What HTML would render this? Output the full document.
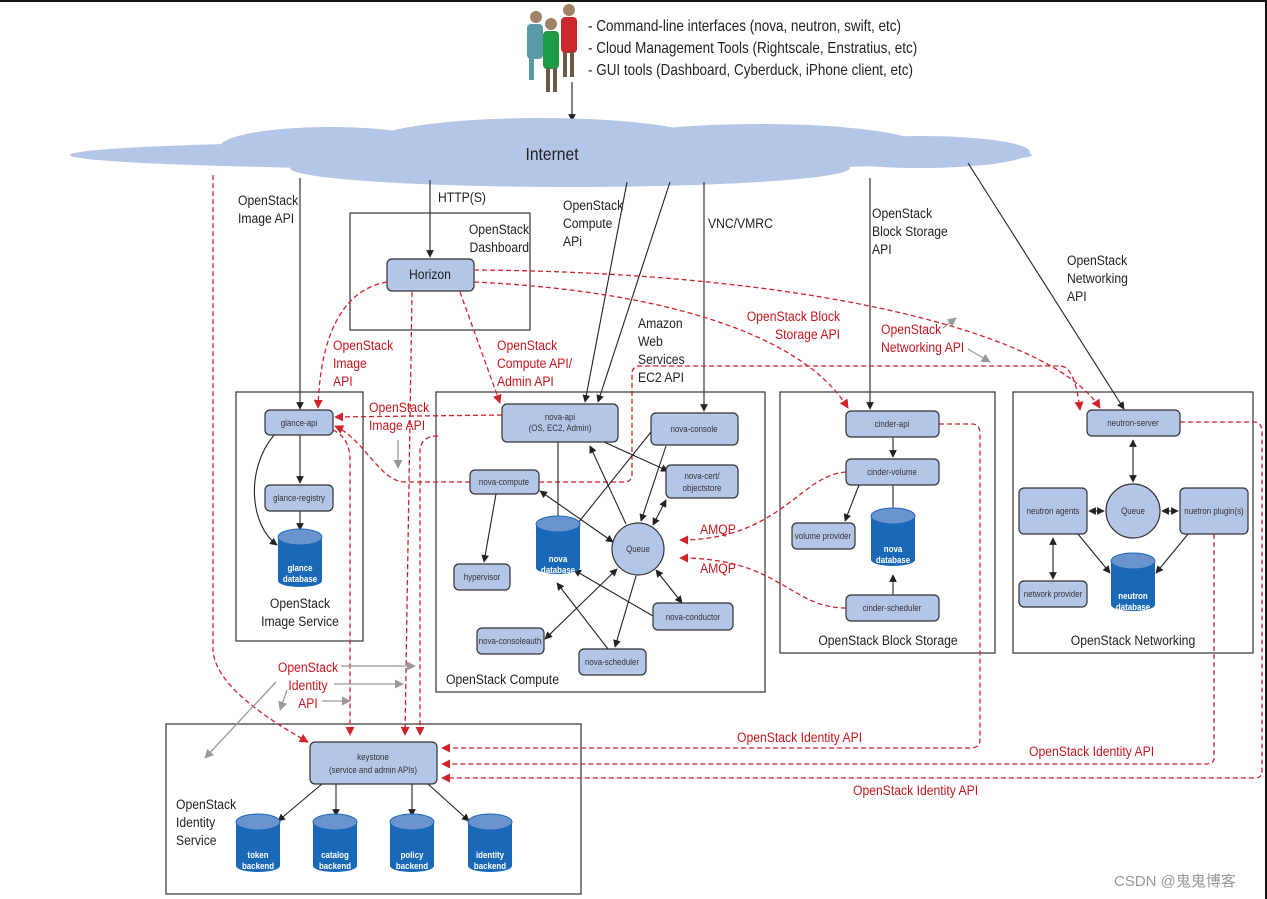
<!DOCTYPE html>
<html><head><meta charset="utf-8"><style>
html,body{margin:0;padding:0;background:#fff;}
svg{display:block;}
text{font-family:"Liberation Sans",sans-serif;transform-box:fill-box;}
.b{fill:#b4c6e7;stroke:#333;stroke-width:1.2;}
.t{font-size:9px;fill:#333;text-anchor:middle;transform-origin:center;transform:scaleX(.88);}
.l{font-size:14px;fill:#222;transform-origin:0 0;transform:scaleX(.87);}
.lm{font-size:14px;fill:#222;text-anchor:middle;transform-origin:center;transform:scaleX(.87);}
.le{font-size:14px;fill:#222;text-anchor:end;transform-origin:100% 0;transform:scaleX(.87);}
.r{font-size:14px;fill:#c8161d;transform-origin:0 0;transform:scaleX(.87);}
.rm{font-size:14px;fill:#c8161d;text-anchor:middle;transform-origin:center;transform:scaleX(.87);}
.re{font-size:14px;fill:#c8161d;text-anchor:end;transform-origin:100% 0;transform:scaleX(.87);}
.k{stroke:#222;stroke-width:1.1;fill:none;}
.d{stroke:#d0232a;stroke-width:1.3;fill:none;stroke-dasharray:5,3;}
.g{stroke:#999;stroke-width:1.3;fill:none;}
.box{fill:none;stroke:#333;stroke-width:1.2;}
.ct{font-size:9px;fill:#fff;font-weight:bold;text-anchor:middle;transform-origin:center;transform:scaleX(.88);}
</style></head><body>
<svg width="1267" height="899" viewBox="0 0 1267 899" xmlns="http://www.w3.org/2000/svg">
<defs>
<marker id="a" viewBox="0 0 10 10" refX="9" refY="5" markerWidth="7" markerHeight="7" orient="auto-start-reverse"><path d="M0,0L10,5L0,10z" fill="#222"/></marker>
<marker id="ar" viewBox="0 0 10 10" refX="9" refY="5" markerWidth="7" markerHeight="7" orient="auto-start-reverse"><path d="M0,0L10,5L0,10z" fill="#d0232a"/></marker>
<marker id="ag" viewBox="0 0 10 10" refX="9" refY="5" markerWidth="7" markerHeight="7" orient="auto"><path d="M0,0L10,5L0,10z" fill="#999"/></marker>
<g id="cyl"><rect x="-22" y="-18" width="44" height="44" fill="#1a68b8"/><ellipse cx="0" cy="26" rx="22" ry="6" fill="#1a68b8"/><ellipse cx="0" cy="-18" rx="22" ry="8" fill="#6b94cf" stroke="#1a68b8"/></g>
</defs>
<rect x="0" y="0" width="1267" height="2" fill="#111"/>
<rect x="1265" y="0" width="2" height="899" fill="#111"/>

<g>
<circle cx="536" cy="17" r="6" fill="#a08366"/><rect x="527" y="24" width="16" height="35" rx="4" fill="#5a9aa6"/><rect x="529" y="58" width="5" height="22" fill="#5a9aa6"/>
<circle cx="569" cy="10" r="6" fill="#a08366"/><rect x="561" y="17" width="16" height="36" rx="4" fill="#c9282d"/><rect x="563" y="52" width="4" height="25" fill="#6b5a48"/><rect x="570" y="52" width="4" height="25" fill="#6b5a48"/>
<circle cx="551" cy="24" r="6" fill="#a08366"/><rect x="543" y="31" width="16" height="38" rx="4" fill="#1d9a45"/><rect x="546" y="68" width="4" height="24" fill="#6b5a48"/><rect x="553" y="68" width="4" height="24" fill="#6b5a48"/>
</g>
<text x="588" y="31" class="l" style="font-size:15.5px">- Command-line interfaces (nova, neutron, swift, etc)</text>
<text x="588" y="53" class="l" style="font-size:15.5px">- Cloud Management Tools (Rightscale, Enstratius, etc)</text>
<text x="588" y="75" class="l" style="font-size:15.5px">- GUI tools (Dashboard, Cyberduck, iPhone client, etc)</text>
<line x1="572" y1="82" x2="572" y2="121" class="k" marker-end="url(#a)"/>

<g fill="#b4c6e7">
<ellipse cx="551" cy="155" rx="481" ry="15"/>
<ellipse cx="330" cy="147" rx="110" ry="20"/>
<ellipse cx="540" cy="143" rx="170" ry="25"/>
<ellipse cx="760" cy="146" rx="160" ry="22"/>
<ellipse cx="570" cy="168" rx="280" ry="19"/>
<ellipse cx="920" cy="152" rx="110" ry="16"/>
</g>
<text x="552" y="160" class="lm" style="font-size:18px">Internet</text>

<line x1="300" y1="178" x2="300" y2="409" class="k" marker-end="url(#a)"/>
<text x="238" y="205" class="l">OpenStack</text><text x="238" y="223" class="l">Image API</text>
<line x1="430" y1="180" x2="430" y2="257" class="k" marker-end="url(#a)"/>
<text x="438" y="202" class="l">HTTP(S)</text>
<line x1="627" y1="182" x2="585" y2="402" class="k" marker-end="url(#a)"/>
<line x1="670" y1="182" x2="598" y2="402" class="k" marker-end="url(#a)"/>
<text x="563" y="210" class="l">OpenStack</text><text x="563" y="228" class="l">Compute</text><text x="563" y="246" class="l">APi</text>
<text x="638" y="328" class="l">Amazon</text><text x="638" y="346" class="l">Web</text><text x="638" y="364" class="l">Services</text><text x="638" y="382" class="l">EC2 API</text>
<line x1="704" y1="182" x2="704" y2="411" class="k" marker-end="url(#a)"/>
<text x="708" y="228" class="l">VNC/VMRC</text>
<line x1="870" y1="178" x2="870" y2="409" class="k" marker-end="url(#a)"/>
<text x="872" y="218" class="l">OpenStack</text><text x="872" y="236" class="l">Block Storage</text><text x="872" y="254" class="l">API</text>
<line x1="968" y1="163" x2="1124" y2="409" class="k" marker-end="url(#a)"/>
<text x="1067" y="265" class="l">OpenStack</text><text x="1067" y="283" class="l">Networking</text><text x="1067" y="301" class="l">API</text>

<rect x="350" y="213" width="180" height="117" class="box"/>
<text x="529" y="234" class="le">OpenStack</text><text x="529" y="252" class="le">Dashboard</text>
<rect x="387" y="259" width="87" height="32" rx="5" class="b"/>
<text x="430" y="279" class="lm">Horizon</text>

<rect x="236" y="392" width="127" height="249" class="box"/>
<rect x="436" y="392" width="329" height="300" class="box"/>
<rect x="780" y="392" width="215" height="261" class="box"/>
<rect x="1013" y="392" width="240" height="261" class="box"/>
<rect x="166" y="724" width="415" height="170" class="box"/>
<text x="300" y="608" class="lm">OpenStack</text><text x="300" y="626" class="lm">Image Service</text>
<text x="446" y="684" class="l">OpenStack Compute</text>
<text x="888" y="645" class="lm">OpenStack Block Storage</text>
<text x="1133" y="645" class="lm">OpenStack Networking</text>
<text x="176" y="809" class="l">OpenStack</text><text x="176" y="827" class="l">Identity</text><text x="176" y="845" class="l">Service</text>

<path d="M474,270 C800,272 1050,330 1100,408" class="d" marker-end="url(#ar)"/>
<path d="M474,282 C650,290 800,330 848,408" class="d" marker-end="url(#ar)"/>
<path d="M387,282 C340,290 320,340 318,408" class="d" marker-end="url(#ar)"/>
<path d="M412,292 L405,735" class="d" marker-end="url(#ar)"/>
<path d="M460,292 L500,403" class="d" marker-end="url(#ar)"/>
<path d="M502,415 L335,417" class="d" marker-end="url(#ar)"/>
<path d="M470,482 L405,482 C380,482 365,440 335,426" class="d" marker-end="url(#ar)"/>
<path d="M539,482 L624,482 Q632,482 632,474 L632,374 Q632,366 640,366 L1060,366 Q1075,366 1080,410" class="d" marker-end="url(#ar)"/>
<path d="M438,436 Q420,436 420,452 L420,735" class="d" marker-end="url(#ar)"/>
<path d="M333,430 Q350,438 350,460 L350,735" class="d" marker-end="url(#ar)"/>
<path d="M939,424 L972,424 Q980,424 980,434 L980,740 Q980,748 970,748 L442,748" class="d" marker-end="url(#ar)"/>
<path d="M1180,422 L1254,422 Q1262,422 1262,432 L1262,772 Q1262,778 1254,778 L442,778" class="d" marker-end="url(#ar)"/>
<path d="M1214,534 L1214,758 Q1214,764 1206,764 L442,764" class="d" marker-end="url(#ar)"/>
<path d="M846,472 C800,475 780,540 680,540" class="d" marker-end="url(#ar)"/>
<path d="M846,608 C790,608 780,558 680,558" class="d" marker-end="url(#ar)"/>
<path d="M213,175 L213,650 Q215,690 308,742" class="d" marker-end="url(#ar)"/>

<text x="333" y="350" class="r">OpenStack</text><text x="333" y="368" class="r">Image</text><text x="333" y="386" class="r">API</text>
<text x="497" y="350" class="r">OpenStack</text><text x="497" y="368" class="r">Compute API/</text><text x="497" y="386" class="r">Admin API</text>
<text x="369" y="412" class="r">OpenStack</text><text x="369" y="430" class="r">Image API</text>
<text x="840" y="321" class="re">OpenStack Block</text><text x="840" y="339" class="re">Storage API</text>
<text x="881" y="334" class="r">OpenStack</text><text x="881" y="352" class="r">Networking API</text>
<text x="700" y="534" class="r">AMQP</text><text x="700" y="573" class="r">AMQP</text>
<text x="308" y="672" class="rm">OpenStack</text><text x="308" y="690" class="rm">Identity</text><text x="308" y="708" class="rm">API</text>
<text x="737" y="742" class="r">OpenStack Identity API</text>
<text x="1029" y="756" class="r">OpenStack Identity API</text>
<text x="853" y="795" class="r">OpenStack Identity API</text>

<line x1="341" y1="666" x2="415" y2="666" class="g" marker-end="url(#ag)"/>
<line x1="334" y1="684" x2="403" y2="684" class="g" marker-end="url(#ag)"/>
<line x1="322" y1="701" x2="350" y2="701" class="g" marker-end="url(#ag)"/>
<line x1="276" y1="682" x2="205" y2="758" class="g" marker-end="url(#ag)"/>
<line x1="287" y1="690" x2="280" y2="710" class="g" marker-end="url(#ag)"/>
<line x1="398" y1="440" x2="398" y2="468" class="g" marker-end="url(#ag)"/>
<line x1="943" y1="328" x2="956" y2="318" class="g" marker-end="url(#ag)"/>
<line x1="968" y1="349" x2="990" y2="362" class="g" marker-end="url(#ag)"/>

<line x1="300" y1="435" x2="300" y2="483" class="k" marker-end="url(#a)"/>
<line x1="300" y1="511" x2="300" y2="530" class="k" marker-end="url(#a)"/>
<path d="M274,435 C245,470 250,525 277,545" class="k" marker-end="url(#a)"/>
<rect x="265" y="410" width="68" height="25" rx="5" class="b"/><text x="299" y="426" class="t">glance-api</text>
<rect x="265" y="485" width="68" height="26" rx="5" class="b"/><text x="299" y="501" class="t">glance-registry</text>
<use href="#cyl" x="300" y="555"/><text x="300" y="571" class="ct">glance</text><text x="300" y="582" class="ct">database</text>

<line x1="558" y1="442" x2="558" y2="526" class="k" marker-end="url(#a)"/>
<line x1="604" y1="442" x2="668" y2="471" class="k" marker-end="url(#a)"/>
<line x1="626" y1="524" x2="590" y2="446" class="k" marker-end="url(#a)"/>
<line x1="651" y1="432" x2="570" y2="533" class="k" marker-end="url(#a)"/>
<line x1="666" y1="446" x2="641" y2="521" class="k" marker-end="url(#a)"/>
<line x1="653" y1="525" x2="666" y2="500" class="k" marker-start="url(#a)" marker-end="url(#a)"/>
<line x1="540" y1="491" x2="613" y2="542" class="k" marker-start="url(#a)" marker-end="url(#a)"/>
<line x1="496" y1="494" x2="484" y2="562" class="k" marker-end="url(#a)"/>
<line x1="656" y1="570" x2="682" y2="603" class="k" marker-start="url(#a)" marker-end="url(#a)"/>
<line x1="653" y1="616" x2="574" y2="570" class="k" marker-end="url(#a)"/>
<line x1="617" y1="569" x2="545" y2="639" class="k" marker-start="url(#a)" marker-end="url(#a)"/>
<line x1="636" y1="576" x2="615" y2="647" class="k" marker-end="url(#a)"/>
<line x1="608" y1="649" x2="557" y2="583" class="k" marker-end="url(#a)"/>

<rect x="502" y="404" width="116" height="38" rx="5" class="b"/><text x="560" y="420" class="t">nova-api</text><text x="560" y="431" class="t">(OS, EC2, Admin)</text>
<rect x="651" y="413" width="87" height="32" rx="5" class="b"/><text x="694" y="432" class="t">nova-console</text>
<rect x="470" y="470" width="69" height="24" rx="5" class="b"/><text x="504" y="485" class="t">nova-compute</text>
<rect x="666" y="465" width="72" height="33" rx="5" class="b"/><text x="702" y="479" class="t">nova-cert/</text><text x="702" y="491" class="t">objectstore</text>
<use href="#cyl" x="558" y="542"/><text x="558" y="562" class="ct">nova</text><text x="558" y="573" class="ct">database</text>
<circle cx="638" cy="549" r="26" class="b"/><text x="638" y="552" class="t">Queue</text>
<rect x="454" y="564" width="56" height="26" rx="5" class="b"/><text x="482" y="580" class="t">hypervisor</text>
<rect x="653" y="603" width="80" height="27" rx="5" class="b"/><text x="693" y="620" class="t">nova-conductor</text>
<rect x="477" y="628" width="67" height="26" rx="5" class="b"/><text x="510" y="644" class="t">nova-consoleauth</text>
<rect x="579" y="649" width="67" height="26" rx="5" class="b"/><text x="612" y="665" class="t">nova-scheduler</text>

<line x1="893" y1="437" x2="893" y2="457" class="k" marker-end="url(#a)"/>
<line x1="859" y1="485" x2="845" y2="521" class="k" marker-end="url(#a)"/>
<line x1="893" y1="485" x2="893" y2="516" class="k" marker-end="url(#a)"/>
<line x1="893" y1="595" x2="893" y2="575" class="k" marker-end="url(#a)"/>
<rect x="846" y="411" width="93" height="26" rx="5" class="b"/><text x="892" y="427" class="t">cinder-api</text>
<rect x="846" y="459" width="93" height="26" rx="5" class="b"/><text x="892" y="475" class="t">cinder-volume</text>
<rect x="792" y="523" width="63" height="26" rx="5" class="b"/><text x="823" y="539" class="t">volume provider</text>
<use href="#cyl" x="893" y="534"/><text x="893" y="552" class="ct">nova</text><text x="893" y="563" class="ct">database</text>
<rect x="846" y="595" width="93" height="26" rx="5" class="b"/><text x="892" y="611" class="t">cinder-scheduler</text>

<line x1="1133" y1="440" x2="1133" y2="482" class="k" marker-start="url(#a)" marker-end="url(#a)"/>
<line x1="1089" y1="511" x2="1104" y2="511" class="k" marker-start="url(#a)" marker-end="url(#a)"/>
<line x1="1162" y1="511" x2="1178" y2="511" class="k" marker-start="url(#a)" marker-end="url(#a)"/>
<line x1="1053" y1="538" x2="1053" y2="579" class="k" marker-start="url(#a)" marker-end="url(#a)"/>
<line x1="1078" y1="534" x2="1110" y2="573" class="k" marker-end="url(#a)"/>
<line x1="1188" y1="534" x2="1156" y2="573" class="k" marker-end="url(#a)"/>
<rect x="1087" y="410" width="93" height="26" rx="5" class="b"/><text x="1133" y="426" class="t">neutron-server</text>
<circle cx="1133" cy="511" r="27" class="b"/><text x="1133" y="514" class="t">Queue</text>
<rect x="1019" y="488" width="68" height="46" rx="5" class="b"/><text x="1053" y="514" class="t">neutron agents</text>
<rect x="1180" y="488" width="68" height="46" rx="5" class="b"/><text x="1214" y="514" class="t">nuetron plugin(s)</text>
<rect x="1019" y="581" width="68" height="26" rx="5" class="b"/><text x="1053" y="597" class="t">network provider</text>
<use href="#cyl" x="1133" y="579"/><text x="1133" y="599" class="ct">neutron</text><text x="1133" y="610" class="ct">database</text>

<line x1="322" y1="784" x2="278" y2="821" class="k" marker-end="url(#a)"/>
<line x1="336" y1="784" x2="336" y2="816" class="k" marker-end="url(#a)"/>
<line x1="412" y1="784" x2="412" y2="816" class="k" marker-end="url(#a)"/>
<line x1="428" y1="784" x2="469" y2="821" class="k" marker-end="url(#a)"/>
<rect x="310" y="742" width="127" height="42" rx="5" class="b"/><text x="373" y="760" class="t">keystone</text><text x="373" y="773" class="t">(service and admin APIs)</text>
<use href="#cyl" x="258" y="840"/><text x="258" y="858" class="ct">token</text><text x="258" y="869" class="ct">backend</text>
<use href="#cyl" x="335" y="840"/><text x="335" y="858" class="ct">catalog</text><text x="335" y="869" class="ct">backend</text>
<use href="#cyl" x="412" y="840"/><text x="412" y="858" class="ct">policy</text><text x="412" y="869" class="ct">backend</text>
<use href="#cyl" x="490" y="840"/><text x="490" y="858" class="ct">identity</text><text x="490" y="869" class="ct">backend</text>

<text x="1114" y="886" font-size="15" fill="#999" style="font-family:'Liberation Sans','Noto Sans CJK SC',sans-serif">CSDN @鬼鬼博客</text>
</svg>
</body></html>
